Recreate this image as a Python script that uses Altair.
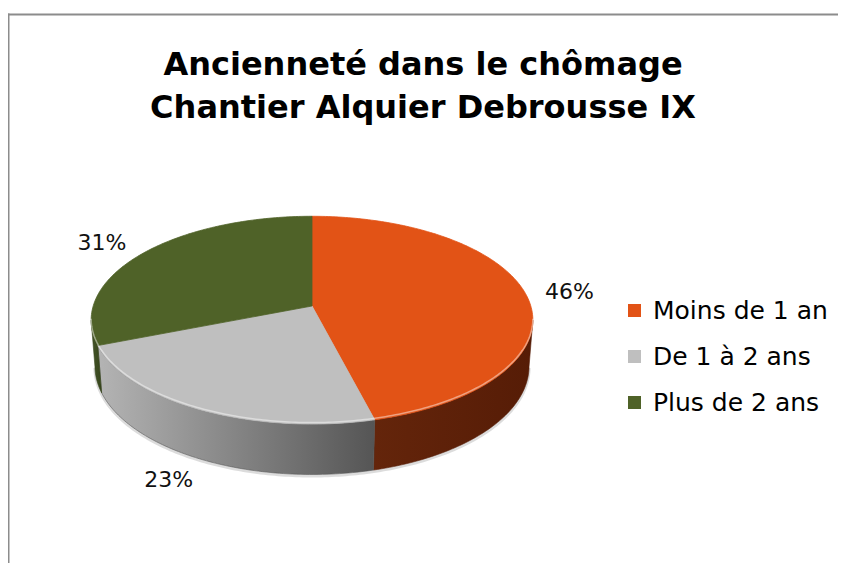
import numpy as np
import pandas as pd
import altair as alt

# ---- data ----
categories = ["Moins de 1 an", "De 1 à 2 ans", "Plus de 2 ans"]
values = [46, 23, 31]
label_texts = ["46%", "23%", "31%"]
title_lines = ["Ancienneté dans le chômage", "Chantier Alquier Debrousse IX"]

# ---- styles ----
top_colors = ["#E25316", "#BFBFBF", "#4F6228"]
side_colors = [("#64250B", "#561C06"), ("#B4B4B4", "#555555"), ("#45562A", "#36441B")]
FONT = "DejaVu Sans"
W, H = 830, 555

# 3-D projection constants of the tilted pie (perspective view)
F = 1420.0          # focal scale (px)
DIST = 6.49         # camera distance in pie radii
SIN_T = 0.466       # sine of the elevation angle
COS_T = float(np.sqrt(1 - SIN_T ** 2))
DEPTH = 0.24        # pie thickness in radii
CX, CY = 304, 298   # pie centre inside the view (px)


def project(theta_deg, yv=0.0):
    t = np.radians(np.asarray(theta_deg, dtype=float))
    X = np.sin(t)
    Z = np.cos(t)
    d = DIST + Z * COS_T - yv * SIN_T
    return F * X / d, F * (yv * COS_T + Z * SIN_T) / d


xenc = alt.X("x:Q", scale=alt.Scale(domain=[-CX, W - CX], nice=False, zero=False), axis=None)
yenc = alt.Y("y:Q", scale=alt.Scale(domain=[CY - H, CY], nice=False, zero=False), axis=None)

total = float(sum(values))
ends = np.cumsum(values) / total * 360.0
starts = np.concatenate([[0.0], ends[:-1]])
ts = float(np.degrees(np.arccos(-COS_T / DIST)))

# soft shadow along the bottom rim
th_all = np.linspace(ts, 360 - ts, 200)
sx, sy = project(th_all, -DEPTH)
shadow_df = pd.DataFrame({"o": range(len(sx)), "x": sx, "y": sy - 1.5})
shadow = alt.Chart(shadow_df).mark_line(color="#9A9A9A", strokeWidth=3, opacity=0.35).encode(
    x=xenc, y=yenc, order="o:Q"
)

# top faces
rows = []
for cat, a0, a1 in zip(categories, starts, ends):
    th = np.linspace(a0, a1, max(int(a1 - a0) + 2, 3))
    xs, ys = project(th)
    pts = [(0.0, 0.0)] + list(zip(xs, ys)) + [(0.0, 0.0)]
    for k, (x, y) in enumerate(pts):
        rows.append({"cat": cat, "o": k, "x": x, "y": y})
top_df = pd.DataFrame(rows)

# side faces (only the visible front half)
side_layers = []
for i, (cat, a0, a1) in enumerate(zip(categories, starts, ends)):
    t0, t1 = max(a0, ts), min(a1, 360 - ts)
    if t0 >= t1:
        continue
    th = np.linspace(t0, t1, max(int(t1 - t0) + 2, 3))
    xt, yt = project(th)
    xb, yb = project(th[::-1], -DEPTH)
    xs = list(xt) + list(xb) + [xt[0]]
    ys = list(yt) + list(yb) + [yt[0]]
    df = pd.DataFrame({"o": range(len(xs)), "x": xs, "y": ys})
    c0, c1 = side_colors[i]
    grad = alt.LinearGradient(
        gradient="linear",
        stops=[alt.GradientStop(color=c0, offset=0), alt.GradientStop(color=c1, offset=1)],
        x1=0, x2=1, y1=0, y2=0,
    )
    side_layers.append(
        alt.Chart(df).mark_line(fill=grad, stroke=c1, strokeWidth=0.6).encode(
            x=xenc, y=yenc, order="o:Q"
        )
    )

# bevel highlight along the front rim of the top face
hx, hy = project(th_all)
hl_df = pd.DataFrame({"o": range(len(hx)), "x": hx, "y": hy + 1.5})
highlight = alt.Chart(hl_df).mark_line(color="white", strokeWidth=1.5, opacity=0.45).encode(
    x=xenc, y=yenc, order="o:Q"
)

# labels
lab_rows = []
GAP, LW, LH = 20, 48, 22
for txt, a0, a1 in zip(label_texts, starts, ends):
    mid = (a0 + a1) / 2
    tx, ty = project(mid)
    n = np.hypot(tx, ty)
    dx, dy = tx / n, ty / n
    if np.cos(np.radians(mid)) < 0:
        ax, ay = project(mid, -DEPTH)
    else:
        ax, ay = tx, ty
    lab_rows.append({"x": ax + dx * (GAP + LW / 2), "y": ay + dy * (GAP + LH / 2), "t": txt})
lab_df = pd.DataFrame(lab_rows)

color_scale = alt.Scale(domain=categories, range=top_colors)

top = alt.Chart(top_df).mark_line(filled=True, strokeWidth=0.8, strokeJoin="round").encode(
    x=xenc,
    y=yenc,
    order="o:Q",
    fill=alt.Fill(
        "cat:N",
        scale=color_scale,
        sort=categories,
        legend=alt.Legend(
            title=None,
            orient="none",
            legendX=614,
            legendY=290,
            symbolType="square",
            symbolSize=169,
            symbolStrokeWidth=0,
            labelFont=FONT,
            labelFontSize=25,
            labelColor="black",
            labelOffset=6,
            labelLimit=400,
            rowPadding=20,
            padding=0,
        ),
    ),
    stroke=alt.Stroke("cat:N", scale=color_scale, sort=categories, legend=None),
)

labels = alt.Chart(lab_df).mark_text(
    font=FONT, fontSize=22, align="center", baseline="middle", color="#111111"
).encode(x=xenc, y=yenc, text="t:N")

border_df = pd.DataFrame({"a": [0]})
left_border = alt.Chart(border_df).mark_rule(color="#8C8C8C", strokeWidth=2).encode(
    x=alt.value(0.5), y=alt.value(5.5), y2=alt.value(H)
)
top_border = alt.Chart(border_df).mark_rule(color="#8C8C8C", strokeWidth=2).encode(
    x=alt.value(-0.5), x2=alt.value(W), y=alt.value(6.5)
)

chart = alt.layer(
    shadow, *side_layers, top, highlight, labels, left_border, top_border
).properties(
    width=W,
    height=H,
    padding=0,
    autosize="none",
    title=alt.TitleParams(
        text=title_lines,
        font=FONT,
        fontSize=32,
        fontWeight="bold",
        color="black",
        anchor="middle",
        orient="top",
        offset=-117,
        lineHeight=43,
    ),
).configure_view(strokeWidth=0)

chart.save("out.html", embed_options={"renderer": "svg", "actions": False})
